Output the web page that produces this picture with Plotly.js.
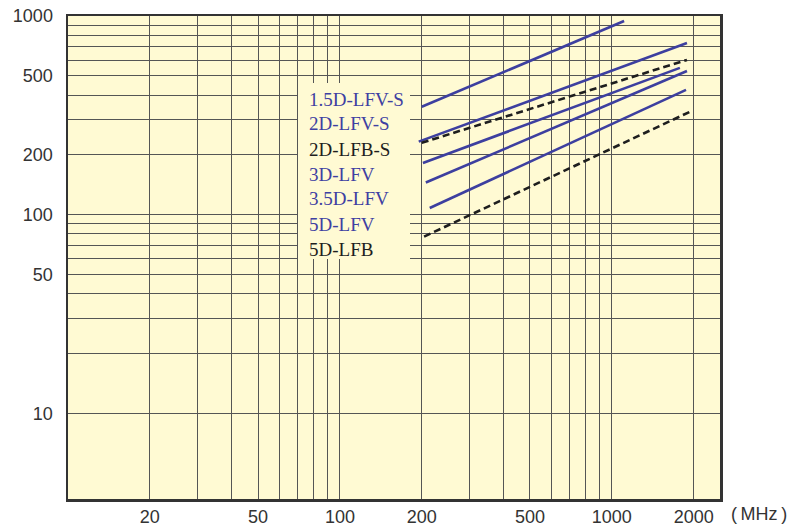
<!DOCTYPE html>
<html>
<head>
<meta charset="utf-8">
<script src="https://cdn.plot.ly/plotly-3.0.1.min.js"></script>
<style>html,body{margin:0;padding:0;background:#fff;}#chart{width:790px;height:527px;}</style>
</head>
<body>
<div id="chart"></div>
<script>
// Cable names (legend labels, top to bottom)
const seriesNames = ["1.5D-LFV-S", "2D-LFV-S", "2D-LFB-S", "3D-LFV", "3.5D-LFV", "5D-LFV", "5D-LFB"];
const seriesDashed = [false, false, true, false, false, false, true];
// Frequency endpoints (MHz) per series
const freq_15DLFVS = [200, 1110];
const freq_2DLFVS  = [195, 1890];
const freq_2DLFBS  = [200, 1890];
const freq_3DLFV   = [202, 1780];
const freq_35DLFV  = [207, 1890];
const freq_5DLFV   = [214, 1875];
const freq_5DLFB   = [204, 1970];
// Values per series (log-log straight lines)
const val_15DLFVS = [349, 944];
const val_2DLFVS  = [233, 732];
const val_2DLFBS  = [230, 601];
const val_3DLFV   = [182, 548];
const val_35DLFV  = [145, 529];
const val_5DLFV   = [108, 425];
const val_5DLFB   = [77.5, 333];
// Axis grid / tick values
const xGridVals = [20,30,40,50,60,70,80,90,100,200,300,400,500,600,700,800,900,1000,2000];
const xLabelVals = [20,50,100,200,500,1000,2000];
const yGridVals = [10,20,30,40,50,60,70,80,90,100,200,300,400,500,600,700,800,900,1000];
const yLabelVals = [10,50,100,200,500,1000];

const xs = [freq_15DLFVS, freq_2DLFVS, freq_2DLFBS, freq_3DLFV, freq_35DLFV, freq_5DLFV, freq_5DLFB];
const ys = [val_15DLFVS, val_2DLFVS, val_2DLFBS, val_3DLFV, val_35DLFV, val_5DLFV, val_5DLFB];

const BLUE = "#3d3f9f";
const BLACK = "#1e1e1e";
const LABEL_BLUE = "#3e40a2";
const BG = "#fffad3";

const traces = seriesNames.map((n, i) => ({
  x: xs[i], y: ys[i], name: n, type: "scatter", mode: "lines",
  line: {color: seriesDashed[i] ? BLACK : BLUE, width: 2.6, dash: seriesDashed[i] ? "7px,4px" : "solid"},
  hoverinfo: "skip", showlegend: false
}));

const lbl = v => xLabelVals.includes(v) ? String(v) : "";
const lbly = v => yLabelVals.includes(v) ? String(v) : "";

const annotations = seriesNames.map((n, i) => ({
  xref: "paper", yref: "paper",
  x: (307 - 68) / 652, y: 1 - (99 + i * 25 - 16) / 483,
  xanchor: "left", yanchor: "middle", showarrow: false,
  text: n,
  font: {family: "Liberation Serif, serif", size: 19, color: seriesDashed[i] ? "#1e1e1e" : LABEL_BLUE}
}));
annotations.push({
  xref: "paper", yref: "paper", x: (729 - 68) / 652, y: -0.031, xanchor: "left", yanchor: "middle",
  showarrow: false, text: "(\u2009MHz\u2009)",
  font: {family: "Liberation Sans, Arial, sans-serif", size: 18, color: "#333"}
});

const layout = {
  width: 790, height: 527,
  margin: {l: 68, r: 70, t: 16, b: 28, pad: 0},
  paper_bgcolor: "#ffffff", plot_bgcolor: BG,
  font: {family: "Liberation Sans, Arial, sans-serif", size: 18, color: "#333"},
  xaxis: {
    type: "log", range: [1, Math.log10(2500)],
    tickvals: xGridVals, ticktext: xGridVals.map(lbl),
    showgrid: true, gridcolor: "#555", gridwidth: 1,
    ticks: "",
    showline: true, linecolor: "#333", linewidth: 2.5, mirror: true,
    zeroline: false, fixedrange: true
  },
  yaxis: {
    type: "log", range: [Math.log10(3.7), 3],
    tickvals: yGridVals, ticktext: yGridVals.map(lbly),
    showgrid: true, gridcolor: "#555", gridwidth: 1,
    ticks: "outside", ticklen: 9, tickcolor: "rgba(0,0,0,0)",
    showline: true, linecolor: "#333", linewidth: 2.5, mirror: true,
    zeroline: false, fixedrange: true
  },
  shapes: [{
    type: "rect", xref: "paper", yref: "paper", layer: "above",
    x0: (298 - 68) / 652, x1: (410 - 68) / 652,
    y0: 1 - (259 - 16) / 483, y1: 1 - (83 - 16) / 483,
    fillcolor: BG, line: {width: 0}
  }],
  annotations: annotations,
  showlegend: false
};

Plotly.newPlot("chart", traces, layout, {staticPlot: true, displayModeBar: false});
</script>
</body>
</html>
